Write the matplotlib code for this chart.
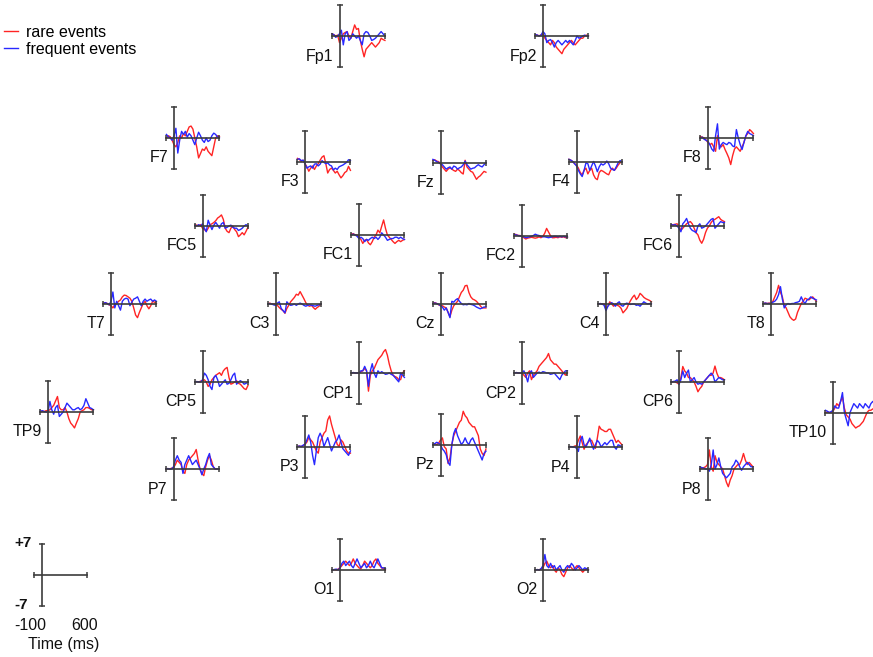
import numpy as np
import matplotlib
matplotlib.use("Agg")
import matplotlib.pyplot as plt

plt.rcParams['font.family'] = ['Liberation Sans', 'DejaVu Sans']

# time axis of every small plot (ms), amplitude range +-7 uV
times = np.arange(-100, 601, 25)
t_min, t_max = -100, 600
v_lim = 7

# grand-average ERPs (uV), one row per electrode
rare = {
    'Fp1': [0.5, 0.3, 0, 0.2, -1.5, -0.5, 0.5, 0.8, 1.0, 0, -0.5, 1.0, 2.5, 1.5, 1.7, -1.0, -3.0, -4.7, -3.0, -2.5, -2.0, -1.5, -2.0, -2.5, -2.0, -1.5, -0.5, -0.8, -1.0],
    'Fp2': [0.3, 0.2, 0, 0.3, 0.5, -0.5, -1.0, -1.5, -2.0, -1.0, -1.5, -2.5, -3.0, -3.5, -4.0, -3.0, -2.5, -2.0, -1.5, -1.0, -1.5, -2.0, -1.5, -1.0, -0.5, -0.5, 0, 0.2, 0],
    'F7': [0, 0.5, 0.3, -0.5, -1.5, -2.0, -1.0, 0.5, 0, 1.0, 0.5, 1.5, 2.5, 2.7, 2.0, 0, -2.0, -4.5, -3.5, -2.5, -2.8, -2.0, -3.0, -3.5, -4.0, -2.0, 0, 0.5, 0.3],
    'F3': [0.7, 0.5, 0, 0.3, -0.5, -1.2, -2.2, -1.5, -1.0, -1.8, -1.0, -0.5, 0.3, 1.0, 1.3, -0.5, -2.6, -1.8, -1.5, -2.0, -2.6, -2.2, -3.0, -3.7, -3.2, -2.5, -2.2, -1.1, -2.0],
    'Fz': [0.5, 0.6, 0.3, 0.2, -0.3, -1.0, -1.5, -2.0, -1.5, -1.2, -1.5, -1.8, -2.0, -1.5, -1.8, -2.3, -2.6, 0.5, -1.0, -1.5, -2.0, -2.2, -3.0, -3.8, -3.3, -3.0, -2.5, -2.0, -2.2],
    'F4': [0.5, 0.3, 0, -0.5, -0.8, -1.5, -2.5, -3.0, -2.0, -1.5, -2.8, -2.0, -1.5, -3.0, -3.8, -4.1, -2.5, -2.0, -2.2, -2.5, -2.8, -3.0, -2.0, -1.5, -2.0, -1.5, -0.8, -0.3, 0],
    'F8': [0.3, 0.2, 0, -0.5, -1.0, -1.5, -1.2, -2.0, -3.0, 0.5, -1.5, -2.0, -1.5, -2.6, -3.5, -4.5, -6.0, -4.0, -2.5, -2.0, -2.5, -3.0, -2.0, -1.0, 0.5, 1.0, 1.9, 1.5, 1.0],
    'FC5': [0.2, 0.2, 0, 0.3, -0.5, -0.8, -1.2, -0.5, 0.3, 0.5, 0.8, 1.2, 1.8, 2.1, 2.5, 1.5, -0.5, -1.2, -1.5, -0.5, 0, -0.8, -1.3, -2.4, -2.0, -1.5, -2.0, -1.2, -0.3],
    'FC1': [0.2, 0.3, 0, 0, -0.5, -1.0, -1.9, -1.2, -1.0, -1.8, -2.2, -1.5, -0.5, 0, 1.1, 0.5, 2.0, 3.4, 1.5, 0, -0.5, -1.0, -1.5, -1.9, -1.5, -1.2, -1.5, -1.2, -1.0],
    'FC2': [0.3, 0.2, 0, 0, -0.3, -0.5, -0.8, -0.6, -0.5, -0.4, -0.5, -0.6, -0.5, -0.3, -0.5, -0.2, 0.5, 1.6, 0.8, 0, -0.5, -0.5, -0.4, -0.5, -0.3, -0.4, -0.3, -0.5, -0.4],
    'FC6': [0.3, 0.3, 0.4, 0.5, 0, -1.0, -0.5, 0, 0.5, 0.8, 1.0, 0.5, -0.5, -1.5, -2.0, -3.2, -3.9, -3.0, -1.5, -0.5, 0, 0.8, 1.3, 1.5, 1.8, 2.1, 1.5, 1.2, 1.0],
    'T7': [0, 0.2, 0, -0.3, -0.5, -1.0, -0.3, 0, 0.5, 0.8, 1.5, 1.9, 1.8, 1.5, 1.2, 0.5, -1.0, -2.6, -3.2, -2.0, -1.0, 0, 0.5, -0.5, -1.2, -0.5, 0.5, 0.3, 0],
    'C3': [0, 0.2, 0, 0, 0, -0.3, -0.8, -1.2, -1.5, -2.1, -1.0, -0.3, 0.5, 1.0, 1.5, 2.2, 2.0, 2.8, 2.0, 1.2, 0.3, -0.3, -0.5, -0.3, -0.8, -1.2, -0.8, -0.5, 0],
    'Cz': [0, 0.2, 0, -0.3, -0.5, -0.5, -0.8, -1.0, -2.0, -3.0, -1.5, -0.5, 0, 0.5, 1.5, 2.5, 3.0, 4.0, 4.1, 2.5, 1.5, 1.0, 0.8, 0.5, 0, -0.5, -1.0, -1.0, -1.0],
    'C4': [0, 0.1, 0, 0, -1.0, -0.5, 0.5, 0, -0.5, 0, -0.3, -0.5, -1.0, -2.0, -1.5, -1.0, 0, 0.8, 1.5, 2.0, 1.0, 1.5, 2.4, 2.0, 1.5, 1.2, 1.0, 0.8, 0.5],
    'T8': [0, 0.1, 0, 0.1, 0, 0.5, 1.5, 2.5, 4.1, 2.5, 1.5, -0.5, -1.0, -2.0, -3.0, -3.5, -3.8, -3.5, -2.0, -1.0, 0, 0.5, 1.2, 1.0, 0.8, 1.2, 1.5, 1.0, 0.5],
    'CP5': [0, 0.1, 0, 0.2, 0.3, 0.5, 0, -1.0, -0.5, 0.5, 1.0, 1.5, 1.8, 2.1, 1.5, 2.5, 3.0, 3.3, 1.0, -0.5, -0.3, 0, 0.3, -0.3, -0.5, -1.0, -1.5, -1.7, -0.8],
    'CP1': [0, 0.1, 0, 0, 0, 0.3, 0.5, 1.0, 0.5, -4.1, -0.5, 0.5, 1.0, 2.0, 3.0, 3.5, 4.0, 4.8, 5.3, 4.0, 2.0, 0.5, -0.5, -0.8, -1.0, -1.5, -1.5, 0, 0.5],
    'CP2': [0, 0.1, 0, 0, 0, -0.5, -1.0, 0, 0.5, -1.5, -0.5, 0, 0.5, 1.5, 2.0, 2.5, 3.0, 3.5, 4.4, 3.0, 2.5, 2.0, 2.0, 1.5, 1.0, 0.5, 0, -0.5, 0],
    'CP6': [0, 0.1, 0, -0.2, -0.5, 1.0, 3.5, 2.5, 2.0, 1.0, 1.0, 0.5, 0, -1.0, -2.2, -1.5, -1.0, 0, 0.5, 1.0, 1.5, 1.5, 2.0, 3.6, 2.0, 1.0, 1.0, 0.8, 0.5],
    'TP9': [0, 0.2, 0.1, 0.3, 0.3, 0.5, 1.0, 1.5, 2.5, 3.5, 1.0, 0.5, 0.5, 1.0, 0, -1.5, -2.5, -3.0, -3.6, -2.5, -1.5, 0, 0.3, 0.5, 1.0, 1.0, 0.8, 0.5, 0.5],
    'TP10': [0, 0.1, 0, 0, 0.3, 1.0, 2.0, 1.5, 2.5, 3.5, 1.0, -0.5, -1.0, -1.5, -2.5, -3.0, -3.5, -3.2, -3.0, -2.5, -2.0, -1.0, 0, 0.5, 0.5, 0.8, 1.0, 1.0, 1.0],
    'P7': [0, 0.1, 0, 0.2, 0.3, 1.0, 2.0, 1.5, 1.0, -0.5, -1.0, 1.0, 2.0, 2.5, 3.0, 3.5, 4.4, 2.0, 0, -1.0, -1.5, 0.5, 2.0, 3.0, 2.0, 0.5, 0, 0, 0],
    'P3': [0, 0.1, 0, 0.2, 0.5, 1.0, 2.0, 1.5, 1.0, 0, -1.0, -1.5, 1.0, 2.0, 3.0, 3.5, 6.0, 6.9, 5.0, 3.5, 2.0, 0.5, 0, 1.5, 1.0, 0, -1.0, -1.5, -1.5],
    'Pz': [0, 0.1, 0, 0.3, 1.0, 1.5, -0.5, -1.0, -4.3, -3.0, 0, 2.0, 3.0, 4.0, 5.0, 5.5, 7.5, 6.5, 6.0, 5.0, 4.5, 4.0, 4.0, 3.0, 2.0, -1.0, -2.0, -2.5, -1.0],
    'P4': [0, 0.1, 0, 0.2, 0.3, 1.5, 2.5, 1.0, -0.5, 0.5, 1.0, 1.5, 1.5, 0.5, -0.3, 2.0, 4.7, 4.0, 3.8, 3.5, 3.5, 4.0, 4.0, 3.0, 2.0, 1.0, 1.5, 1.0, 0.5],
    'P8': [0, 0.2, 0.3, 0.5, 1.0, 4.3, 0.5, -0.5, 3.0, 1.5, 1.0, 0.5, 0, -1.5, -3.0, -4.0, -2.5, -1.5, 0, 0.5, 1.0, 1.0, 2.0, 3.5, 2.0, 1.0, 1.5, 1.0, 0.5],
    'O1': [0, 0.1, 0, 0.2, 0.5, 1.0, 1.5, 2.0, 1.5, 1.0, 1.5, 2.5, 1.5, 1.0, 0.5, 0.3, 1.0, 2.0, 1.5, 1.0, 0.5, 1.0, 2.0, 2.5, 1.5, 1.0, 0.5, 0.3, 0],
    'O2': [0, 0.1, 0, 0.3, 0.5, 1.5, 2.0, 1.0, 0.5, 1.0, 0, -0.5, 0.5, 0, -1.0, -1.5, -0.5, 0.5, 1.0, 0.5, 0, 0.5, 1.0, 0.5, 0, -0.5, 0, 0.3, 0],
}

frequent = {
    'Fp1': [0.5, 0.3, -0.3, 0, 0.5, 1.3, -2.0, 0.5, 1.0, -1.0, -0.5, 0.5, 0, -0.5, 0, -1.0, -2.0, 0.5, 1.0, 0.8, 0, -1.0, -0.8, -0.5, 0, 0.5, 1.0, 0.5, 0],
    'Fp2': [0.3, 0.2, 0, 0.2, 1.0, 0.5, -1.5, -1.0, -0.8, -1.5, -2.5, -1.5, -1.0, -1.5, -2.0, -1.5, -1.0, -1.5, -1.0, -1.5, -2.0, -1.0, 0, -0.5, -0.3, 0, 0.2, 0, 0],
    'F7': [0.8, 0.3, 0, -0.5, 0.5, 2.2, -3.4, -0.5, 1.5, 0.8, 1.5, 0.2, 1.0, 0.5, -0.5, -1.5, 0, 1.3, 0.5, -0.5, -1.0, 0, -0.8, -0.5, 0.5, 1.1, 0.8, 0.2, 0],
    'F3': [0.5, 0.6, 0.2, 0.3, -0.5, -1.5, -1.2, -1.0, -1.5, -0.6, -0.5, -1.0, -0.6, 0.2, -0.2, -0.5, -0.3, -0.8, -1.0, -1.9, -1.5, -1.8, -1.2, -1.0, -0.8, -0.5, -0.2, 0.4, 0.2],
    'Fz': [0.7, 0.5, 0.2, 0, -0.3, -0.5, -1.0, -1.5, -1.2, -1.0, -1.5, -0.8, -1.0, -1.5, -1.2, -1.0, -0.5, 0.3, -0.5, -1.0, -1.5, -1.3, -1.2, -0.8, -0.5, -0.8, -1.0, -0.5, 0],
    'F4': [0.5, 0.3, 0, -0.5, -1.0, -2.0, -2.8, -3.4, -2.0, -0.3, -0.5, -2.0, -1.0, 0, -1.0, -2.3, -1.2, -0.5, -0.8, -0.5, 0.1, -0.5, -1.5, -1.8, -2.0, -1.2, -0.3, 0.2, 0],
    'F8': [0, 0.2, -0.3, -0.5, -0.8, -1.5, -2.5, -3.0, 0.5, 3.2, -2.5, -1.5, -1.0, -1.3, -1.5, -1.0, -1.2, -1.8, -2.0, 1.9, 0, -1.5, -2.6, -1.0, 0.5, 1.5, 1.0, 0.8, 0.5],
    'FC5': [0.2, 0, 0.3, 0, 0.5, -0.5, -1.3, 1.3, 0.2, -0.8, 0.2, 0.8, 0.2, -0.5, 0.5, 0.8, -0.5, -0.3, 0, 0.2, -0.3, -0.5, -0.5, -1.0, -0.8, -0.5, 0, 0.3, 0],
    'FC1': [0, 0.2, 0, -0.3, -0.8, -0.5, -0.8, -1.5, -1.0, -1.2, -0.8, -0.5, -0.8, -0.5, -1.0, -0.5, 0.5, 0, -0.5, -1.2, -1.0, -0.8, -0.8, -0.5, -0.5, -0.8, -0.5, -0.8, -1.0],
    'FC2': [0.2, 0.1, 0, -0.1, -0.2, -0.3, -0.5, -0.4, -0.3, -0.2, 0, 0.3, 0.1, 0, -0.2, -0.3, -0.3, -0.4, -0.5, -0.4, -0.3, -0.2, -0.2, -0.3, -0.2, -0.3, -0.2, -0.3, -0.3],
    'FC6': [0.3, 0.2, 0.3, 0, -0.5, -1.3, 0.5, 1.0, 1.7, 0.5, -0.5, -1.0, -1.2, -1.5, 0, 0.5, -0.5, -0.3, 0, 0.5, 1.0, 1.5, 1.7, -0.5, 0, 0.5, 1.0, 0.8, 0.8],
    'T7': [0, 0.2, 0, -0.3, 0.5, 2.6, -1.0, 0.5, -0.5, -1.5, 0.5, 1.0, 1.2, 1.0, -0.5, 0.3, 1.0, 1.2, 1.5, 0.5, -0.5, 0.5, 1.0, 0.5, 0.8, 1.0, 0.5, 0.8, 0.5],
    'C3': [0, 0.1, 0, -0.2, -0.3, 0.2, 0.5, -1.0, -1.5, -2.0, 0.5, 0, -0.3, -0.2, 0, -0.3, 0, 0.2, 0, -0.3, -0.5, -0.3, -0.2, -0.3, -0.4, -0.5, -0.3, -0.2, 0],
    'Cz': [0, 0.1, 0, -0.2, -0.5, -0.8, -1.5, -1.0, -2.0, -3.2, 0.5, 0.3, 0.8, 1.1, 0.5, 0, -0.3, -0.2, -0.3, 0, -0.2, -0.3, -0.5, -0.8, -1.0, -1.2, -1.0, -0.8, -0.8],
    'C4': [0, 0.1, 0, -0.3, -1.5, -0.5, 0, 0.3, 0, -0.5, 0.2, 0.5, -0.3, -0.5, 0, 0.2, 0, -0.1, 0, 0, -0.3, -0.2, -0.5, 0, 0.5, 0.2, 0, 0.1, 0],
    'T8': [0, 0.1, 0, 0, 0, 0.3, 0.5, 1.0, 2.0, 3.8, 1.0, -1.0, -0.3, 0, -0.2, 0, 0, 0.2, 0.3, 0.5, 1.5, 0.5, 0, 0.8, 1.0, 1.5, 1.2, 1.0, 0.8],
    'CP5': [0, 0.1, 0, 0, 0.5, 2.0, 1.5, 0.5, -1.0, -1.7, 1.0, 1.5, 0.5, -1.0, -0.5, 0, 0.5, -0.5, -0.3, 0.5, 1.5, 2.0, -0.5, 0, 0.3, 0, -0.5, -0.3, 0],
    'CP1': [0, 0.1, 0, 0, 0, 0.5, 0.5, 1.5, 0.5, -3.0, 0.5, 2.1, 0, -1.0, 0.5, 0, 0.3, 0, -0.3, -0.2, 0, -0.3, -0.5, -1.0, -1.5, -2.0, 0, -0.5, -1.0],
    'CP2': [0, 0.1, 0, 0, 0, 0.5, -0.5, -2.0, 0, 0.5, -1.0, -0.5, 0, 0.2, 0, 0.3, 0.2, 0, 0, -0.3, -0.2, 0, -0.5, -1.0, -1.5, -0.5, 0, 0.5, 0.5],
    'CP6': [0, 0.1, 0.2, 0.5, -0.5, 0.5, 2.5, 1.0, 2.0, 2.7, 0, 0.5, 1.0, 0, -0.5, -0.3, -0.5, 0, 0.5, 1.0, 1.5, 2.0, 1.5, 0, 0.5, 1.0, 0.8, 0.5, 0.5],
    'TP9': [0.2, 0.3, 0.1, 0, 0, 2.4, 0.5, -0.5, 1.0, 1.5, -1.0, -0.5, 0, 1.0, 2.0, 1.5, 1.0, 0.5, 0.5, 0.8, 1.0, 0.5, 0.8, 1.5, 3.0, 2.0, 1.0, 0.8, 0.5],
    'TP10': [0.5, 0.3, 0, 0.2, 0.5, 1.5, 1.0, 1.0, 2.5, 4.5, 0, -1.5, -3.0, 0, 1.0, 2.0, 1.5, 1.0, 2.0, 1.5, 1.0, 2.0, 1.5, 1.0, 2.0, 2.5, 2.0, 1.5, 1.0],
    'P7': [0, 0.1, 0, 0, 0.5, 2.0, 3.0, 2.0, 1.5, -1.0, 1.0, 2.0, 3.0, 2.0, 1.0, 1.5, 2.0, 1.0, 0, -1.3, 0, 1.0, 2.5, 3.5, 1.0, 0.5, 0, 0, 0],
    'P3': [0, 0.1, 0, 0.3, 0.5, 1.5, 2.6, 1.0, -2.0, -4.1, -1.0, 2.0, 3.0, 2.0, 0, 1.0, 2.0, 0.5, -1.0, 0, 1.0, 1.5, 2.6, 1.0, -0.5, -1.0, -1.5, -2.0, -1.0],
    'Pz': [0, 0.2, 0.5, 0.3, 0, -1.0, -1.5, -2.3, -4.0, -4.7, 0, 2.5, 3.6, 2.0, 1.0, 0, 0.5, 1.5, 0.5, 0, 1.0, 1.5, 0.5, -0.5, -1.5, -2.5, -3.5, -2.0, -1.5],
    'P4': [0, 0.1, 0, 0, -0.3, -1.0, 1.5, 2.4, 0.5, 0, 1.0, 2.0, 0.5, -0.5, 0.5, 1.5, 1.0, 0, 0.5, 1.0, 0.5, 1.0, 1.5, 1.5, 0, -0.5, 0.5, 0.3, 0],
    'P8': [0.5, 0.3, 0.2, 0, 0, -0.5, 1.0, 4.3, 0, 1.0, 2.5, 0.5, -1.0, -1.5, -2.0, -1.5, -1.0, 0.5, 1.0, 2.0, 1.5, 0.5, -0.3, 0.5, 1.0, 1.5, 1.0, 0.5, 0.5],
    'O1': [0, 0.1, 0.2, 0, 0.5, 1.5, 2.0, 1.0, 1.5, 2.0, 1.0, 0.5, 1.5, 2.5, 1.5, 0.5, 1.0, 1.5, 0.5, 1.0, 2.0, 1.0, 0.5, 1.5, 2.5, 1.5, 0.5, 0.5, 0.3],
    'O2': [0, 0.1, 0, 0.3, 1.0, 3.5, 1.0, 0.5, 1.5, 0.5, 1.0, 0, 0.5, 1.0, 0, -0.5, 0.5, 1.0, 0.5, 1.5, 1.0, 0, 0.5, 1.0, 0.5, 0, 0.5, 0.3, 0],
}

# pixel position of each plot's origin (t=0, v=0) on the 873x657 canvas
layout = {
    'Fp1': (339.5, 36), 'Fp2': (543, 36),
    'F7': (174, 138), 'F3': (305, 161.5), 'Fz': (440.5, 162.5), 'F4': (576.5, 161.5), 'F8': (708, 138),
    'FC5': (202.5, 226), 'FC1': (359, 235), 'FC2': (522, 235.5), 'FC6': (679, 226),
    'T7': (111, 303.5), 'C3': (275.5, 304), 'Cz': (440.5, 303.5), 'C4': (606, 304), 'T8': (771, 303.5),
    'CP5': (202.5, 382), 'CP1': (359, 373), 'CP2': (522, 373), 'CP6': (679, 382),
    'TP9': (48, 412), 'TP10': (833, 412.5),
    'P7': (173.5, 469), 'P3': (305, 446.5), 'Pz': (440.5, 444.5), 'P4': (576.5, 447), 'P8': (707.5, 469),
    'O1': (340, 570), 'O2': (543, 570),
}
scale_origin = (41.7, 575)

W, H = 873, 657
ax_w, ax_h = 53, 62  # pixel size of one small plot
px_per_ms = ax_w / (t_max - t_min)

RED = '#ff2424'
BLUE = '#2828ff'
AXC = '#3c3c3c'

fig = plt.figure(figsize=(W / 100, H / 100), dpi=100)


def small_axes(x0, y0):
    left = x0 + t_min * px_per_ms
    bottom = y0 + ax_h / 2
    ax = fig.add_axes([left / W, 1 - bottom / H, ax_w / W, ax_h / H])
    ax.set_xlim(t_min, t_max)
    ax.set_ylim(-v_lim, v_lim)
    ax.axis('off')
    return ax


def draw_frame(ax):
    ax.plot([t_min, t_max], [0, 0], color=AXC, lw=1.2, zorder=3, clip_on=False)
    ax.plot([0, 0], [-v_lim, v_lim], color=AXC, lw=1.2, zorder=3, clip_on=False)
    ax.plot([t_min, t_max], [0, 0], ls='none', marker='|', ms=5, mew=1.1,
            color=AXC, zorder=3, clip_on=False)
    ax.plot([0, 0], [-v_lim, v_lim], ls='none', marker='_', ms=5, mew=1.1,
            color=AXC, zorder=3, clip_on=False)


handles = None
for name, (x0, y0) in layout.items():
    ax = small_axes(x0, y0)
    lr, = ax.plot(times, rare[name], color=RED, lw=1.0, clip_on=False,
                  label='rare events')
    lb, = ax.plot(times, frequent[name], color=BLUE, lw=1.0, clip_on=False,
                  label='frequent events')
    draw_frame(ax)
    fig.text((x0 - 6) / W, 1 - (y0 + 20) / H, name, ha='right', va='center',
             fontsize=11.5, color='#111111')
    if handles is None:
        handles = [lr, lb]

fig.legend(handles=handles, loc='upper left', bbox_to_anchor=(4 / W, 1 - 25 / H),
           frameon=False, fontsize=11.5, handlelength=0.85, handletextpad=0.5,
           labelspacing=0.1, borderpad=0, borderaxespad=0)

# calibration cross
sx, sy = scale_origin
sax = small_axes(sx, sy)
draw_frame(sax)
fig.text(14 / W, 1 - 543 / H, '+7', ha='left', va='center', fontsize=11,
         fontweight='bold', color='#111111')
fig.text(14 / W, 1 - 605 / H, '-7', ha='left', va='center', fontsize=11,
         fontweight='bold', color='#111111')
fig.text(30 / W, 1 - 626 / H, '-100', ha='center', va='center', fontsize=11.5,
         color='#111111')
fig.text(85 / W, 1 - 626 / H, '600', ha='center', va='center', fontsize=11.5,
         color='#111111')
fig.text(64 / W, 1 - 645 / H, 'Time (ms)', ha='center', va='center',
         fontsize=11.5, color='#111111')

fig.savefig('out.png', dpi=100)
